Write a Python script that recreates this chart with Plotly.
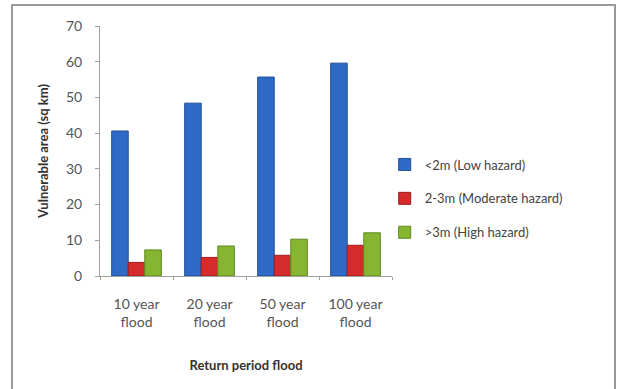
import plotly.graph_objects as go

categories = ["10 year<br>flood", "20 year<br>flood", "50 year<br>flood", "100 year<br>flood"]
low_hazard = [40.6, 48.4, 55.7, 59.6]
moderate_hazard = [3.8, 5.2, 5.8, 8.6]
high_hazard = [7.3, 8.4, 10.3, 12.1]
series_names = ["<2m (Low hazard)", "2-3m (Moderate hazard)", ">3m (High hazard)"]
y_ticks = [0, 10, 20, 30, 40, 50, 60, 70]

W, H = 619, 389
ml, mr, mt, mb = 100, 227, 26, 113

fig = go.Figure()
colors = ["#2F6BC6", "#D52B2B", "#86B531"]
lines = ["#1F4E95", "#9E1C1C", "#5E8A1E"]
for i, (name, vals, c, lc) in enumerate(zip(series_names, [low_hazard, moderate_hazard, high_hazard], colors, lines)):
    fig.add_trace(go.Bar(x=categories, y=vals, name=name, legendgroup=f"g{i}",
                         marker=dict(color=c, line=dict(color=lc, width=1))))

font = "Lato, 'Open Sans', sans-serif"
fig.update_layout(
    width=W, height=H,
    margin=dict(l=ml, r=mr, t=mt, b=mb),
    paper_bgcolor="white", plot_bgcolor="white",
    barmode="group", bargap=0.32, bargroupgap=0,
    font=dict(family=font, size=13, color="#555555"),
    showlegend=True,
    legend=dict(x=0.975, y=0.31, xanchor="left", yanchor="middle",
                font=dict(family=font, size=13, color="#444444"),
                tracegroupgap=14, itemwidth=30, traceorder="grouped"),
    xaxis=dict(showline=True, linecolor="#A0A0A0", linewidth=1, ticks="outside",
               tickcolor="#A0A0A0", ticklen=3, tickson="boundaries",
               ticklabelstandoff=15,
               tickfont=dict(size=14, color="#555555"),
               title=dict(text="<b>Return period flood</b>", font=dict(size=13, color="#333333"), standoff=31)),
    yaxis=dict(range=[0, 70], tickvals=y_ticks, showline=True, linecolor="#A0A0A0", linewidth=1,
               ticks="outside", tickcolor="#A0A0A0", ticklen=4, showgrid=False, zeroline=False,
               ticklabelstandoff=10,
               tickfont=dict(size=14, color="#555555"),
               title=dict(text="<b>Vulnerable area (sq km)</b>", font=dict(size=13, color="#333333"), standoff=14)),
)

pw = W - ml - mr
ph = H - mt - mb
def px_x(x):
    return (x - ml) / pw
def px_y(y):
    return (H - mb - y) / ph

fig.add_shape(type="rect", xref="paper", yref="paper",
              x0=px_x(12), x1=px_x(615), y0=px_y(395), y1=px_y(5),
              line=dict(color="#9A9A9A", width=2), fillcolor="rgba(0,0,0,0)", layer="below")

fig.write_html("out.html")
